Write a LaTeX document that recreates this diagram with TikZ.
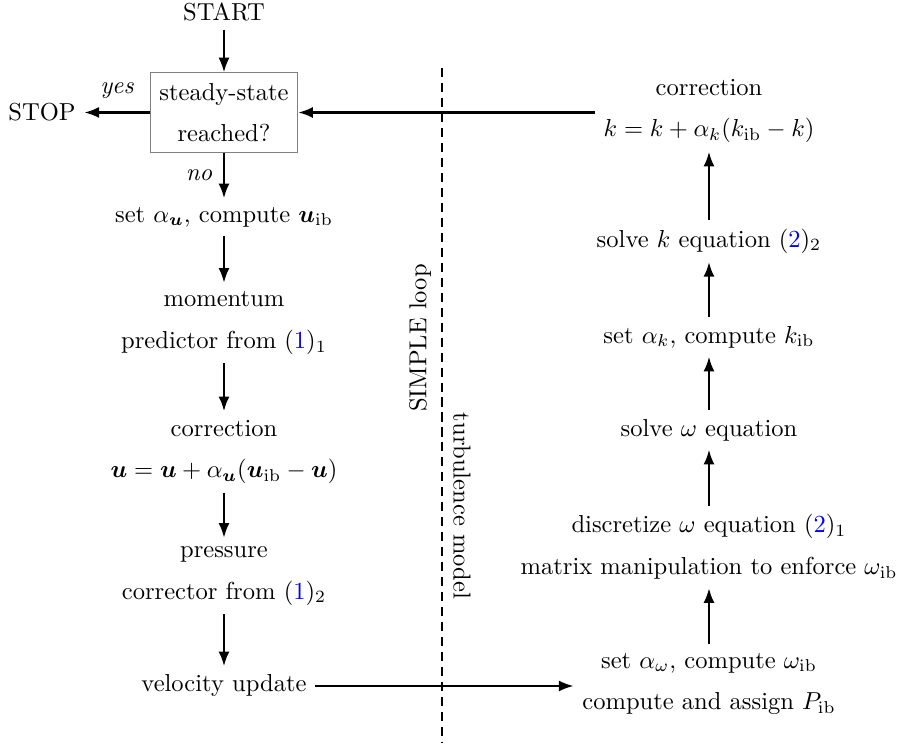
\documentclass[tikz,border=0pt]{standalone}
\usepackage{bm}
\usetikzlibrary{arrows.meta}
\begin{document}
\begin{tikzpicture}[x=0.4073pt,y=-0.4073pt,
  arr/.style={-{Latex[length=6pt,width=4.5pt]}, line width=1pt},
  txt/.style={align=center},
]
\useasboundingbox (0,0) rectangle (899,746);
% left column
\node (start) at (224,12) {START};
\node[draw=gray, align=center, minimum width=60pt, minimum height=32.2pt] (box) at (224,112.5) {steady-state\\[5pt]reached?};
\node (stop) at (42,112.5) {STOP};
\node (setu) at (224,217) {set $\alpha_{\bm u}$, compute $\bm u_{\mathrm{ib}}$};
\node[txt] (mom) at (224,323) {momentum\\[5pt]predictor from (\textcolor{blue}{1})$_1$};
\node[txt] (corru) at (224,452) {correction\\[5pt]$\bm u=\bm u+\alpha_{\bm u}(\bm u_{\mathrm{ib}}-\bm u)$};
\node[txt] (pres) at (224,576) {pressure\\[5pt]corrector from (\textcolor{blue}{1})$_2$};
\node (vel) at (224,686) {velocity update};
% right column
\node[txt] (corrk) at (709,111) {correction\\[5pt]$k=k+\alpha_k(k_{\mathrm{ib}}-k)$};
\node (solvek) at (709,241) {solve $k$ equation (\textcolor{blue}{2})$_2$};
\node (setk) at (709,337) {set $\alpha_k$, compute $k_{\mathrm{ib}}$};
\node (solvew) at (709,430) {solve $\omega$ equation};
\node[txt] (disc) at (709,547) {discretize $\omega$ equation (\textcolor{blue}{2})$_1$\\[5pt]matrix manipulation to enforce $\omega_{\mathrm{ib}}$};
\node[txt] (setw) at (709,684) {set $\alpha_\omega$, compute $\omega_{\mathrm{ib}}$\\[5pt]compute and assign $P_{\mathrm{ib}}$};
% divider
\coordinate (dtop) at (442,68);
\coordinate (dbot) at (442,742);
\draw[line width=0.9pt, dash pattern=on 3.7pt off 2.4pt] (dtop) -- (dbot);
\node[rotate=90] (simple) at (420,338) {SIMPLE loop};
\node[rotate=-90] (turb) at (462,506) {turbulence model};
% arrows
\draw[arr] (start) -- (box);
\draw[arr] (box) -- node[above=2pt]{\textit{yes}} (stop);
\draw[arr] (box) -- node[left=1pt]{\textit{no}} (setu);
\draw[arr] (setu) -- (mom);
\draw[arr] (mom) -- (corru);
\draw[arr] (corru) -- (pres);
\draw[arr] (pres) -- (vel);
\draw[arr] (vel) -- (vel -| setw.west);
\draw[arr] (setw) -- (disc);
\draw[arr] (disc) -- (solvew);
\draw[arr] (solvew) -- (setk);
\draw[arr] (setk) -- (solvek);
\draw[arr] (solvek) -- (corrk);
\draw[arr] (corrk.west |- box.east) -- (box.east);
\end{tikzpicture}
\end{document}
